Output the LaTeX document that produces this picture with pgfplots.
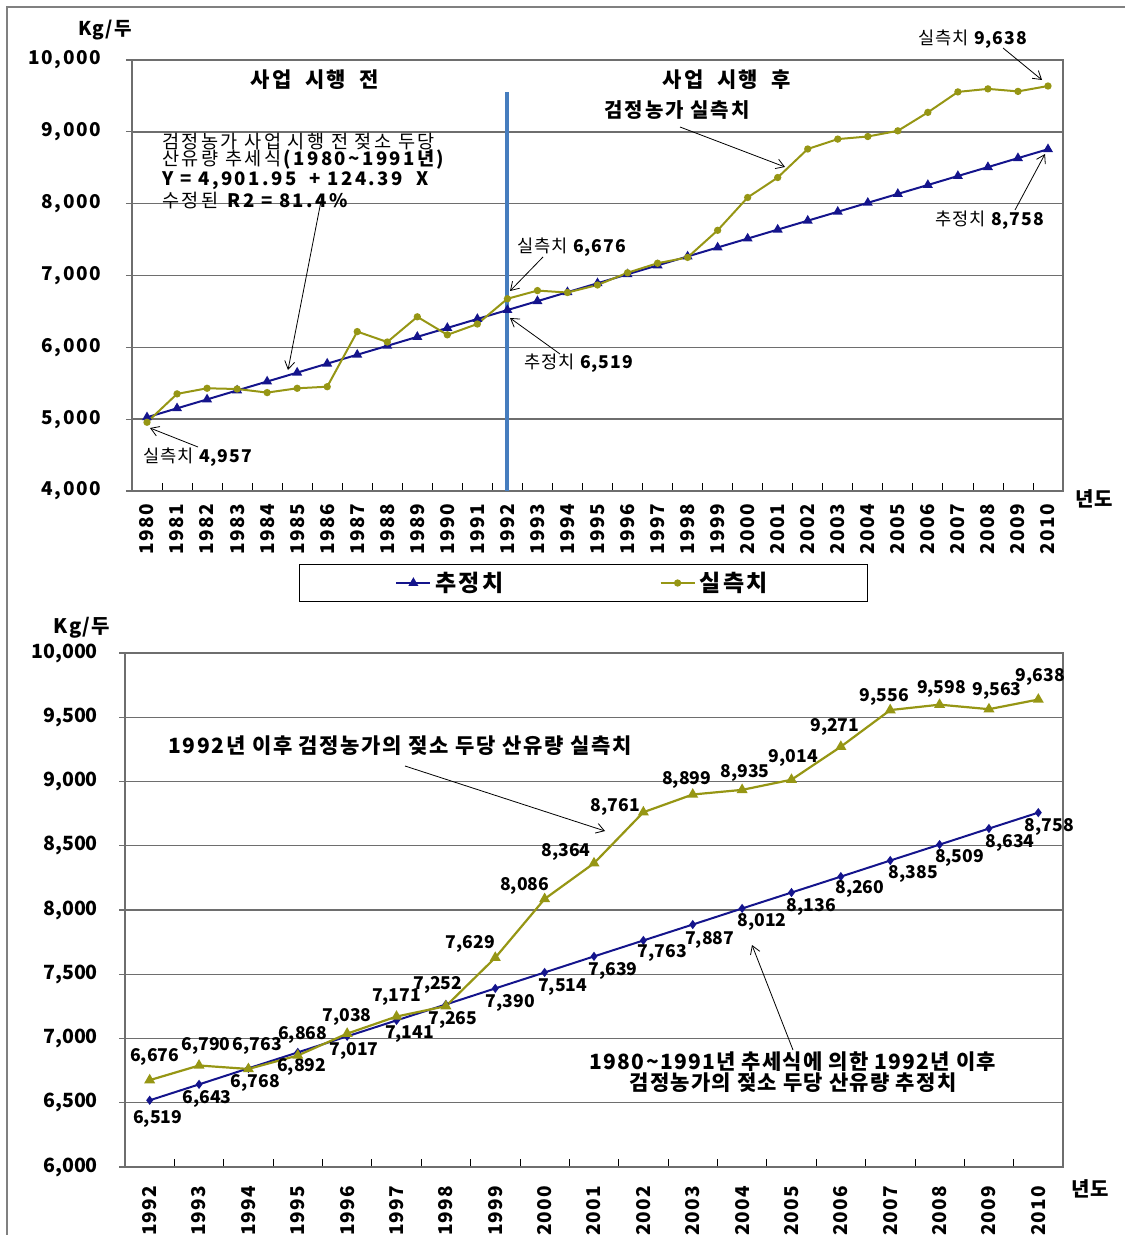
\documentclass[border=0pt]{standalone}
\usepackage{fontspec}
\setmainfont{Noto Sans CJK KR}
\usepackage{pgfplots}
\pgfplotsset{compat=1.18}
\usepackage{pgfplotstable}
\usetikzlibrary{arrows.meta}

\definecolor{est}{RGB}{20,20,140}
\definecolor{act}{RGB}{150,150,20}
\definecolor{vline}{RGB}{70,125,190}
\definecolor{gridc}{RGB}{110,110,110}

\newcommand\LS[1]{\addfontfeature{LetterSpace=#1}}

\pgfplotstableread{
x y
0 5026
1 5151
2 5275
3 5400
4 5524
5 5648
6 5773
7 5897
8 6021
9 6146
10 6270
11 6395
12 6519
13 6643
14 6768
15 6892
16 7017
17 7141
18 7265
19 7390
20 7514
21 7639
22 7763
23 7887
24 8012
25 8136
26 8260
27 8385
28 8509
29 8634
30 8758
}\topest

\pgfplotstableread{
x y
0 4957
1 5352
2 5430
3 5420
4 5370
5 5430
6 5452
7 6219
8 6074
9 6425
10 6174
11 6325
12 6676
13 6790
14 6763
15 6868
16 7038
17 7171
18 7252
19 7629
20 8086
21 8364
22 8761
23 8899
24 8935
25 9014
26 9271
27 9556
28 9598
29 9563
30 9638
}\topact

\pgfplotstableread{
x y dx dy
0 6519 8 19
1 6643 8 15
2 6768 7 15
3 6892 4 15
4 7017 7 15
5 7141 13 14
6 7265 7 16
7 7390 15 15
8 7514 18 15
9 7639 19 15
10 7763 19 13
11 7887 17 15
12 8012 20 14
13 8136 20 14
14 8260 19 12
15 8385 23 13
16 8509 20 13
17 8634 21 14
18 8758 11 14
}\botest

\pgfplotstableread{
x y dx dy
0 6676 5 -23
1 6790 7 -20
2 6763 9 -23
3 6868 5 -20
4 7038 0 -17
5 7171 0 -19
6 7252 -8 -21
7 7629 -25 -14
8 8086 -20 -13
9 8364 -28 -11
10 8761 -28 -5
11 8899 -6 -15
12 8935 3 -17
13 9014 2 -22
14 9271 -6 -20
15 9556 -6 -13
16 9598 2 -16
17 9563 8 -18
18 9638 2 -23
}\botact

\pgfplotsset{
  common/.style={
    scale only axis,
    anchor=south west,
    scaled y ticks=false,
    /pgf/number format/assume math mode=true,
    axis line style={gridc, line width=0.7pt},
    ymajorgrids,
    grid style={gridc, line width=0.7pt},
    xtick pos=bottom, ytick pos=left,
    major x tick style={draw=none},
    minor x tick style={black, line width=0.4pt},
    minor tick length=4pt,
    major tick length=3pt,
    xtick align=inside, ytick align=outside,
    ytick style={gridc, line width=0.6pt},
  },
  labelled/.style={
    nodes near coords,
    point meta=explicit,
    visualization depends on={\thisrow{dx} \as \dx},
    visualization depends on={\thisrow{dy} \as \dy},
    every node near coord/.append style={anchor=center, xshift={0.5*(\dx)}, yshift={-0.5*(\dy)},
      font=\bfseries\fontsize{8.8}{10}\selectfont, text=black, inner sep=0pt},
  },
}

\begin{document}
\begin{tikzpicture}
\path[use as bounding box] (0pt,0pt) rectangle (562.5pt,-617.5pt);
\draw[gray, line width=0.6pt] (3.5pt,-617.5pt) -- (3.5pt,-3.5pt) -- (562.5pt,-3.5pt);

% ---------- top chart ----------
\begin{axis}[common,
  at={(66pt,-245.5pt)}, width=465.5pt, height=215.5pt,
  xmin=-0.5, xmax=30.5, ymin=4000, ymax=10000,
  ytick={4000,5000,...,10000},
  yticklabel style={xshift=-9pt, font=\bfseries\LS{8}\fontsize{9.5}{11}\selectfont},
  xtick={0,...,30},
  minor xtick={-0.5,0.5,...,30.5},
  xticklabels={1980,1981,1982,1983,1984,1985,1986,1987,1988,1989,1990,1991,1992,1993,1994,1995,1996,1997,1998,1999,2000,2001,2002,2003,2004,2005,2006,2007,2008,2009,2010},
  xticklabel style={yshift=-3pt, rotate=90, anchor=east, font=\bfseries\LS{8}\fontsize{9.5}{11}\selectfont},
  legend columns=2,
  legend style={at={(0.485,-0.2135)}, anchor=center, draw=black, line width=0.5pt,
    font=\bfseries\LS{10}\fontsize{11.5}{13}\selectfont, inner xsep=48pt, inner ysep=1.5pt,
    /tikz/every even column/.append style={column sep=76pt}},
]
\addplot[vline, line width=2pt, forget plot] coordinates {(12,4000) (12,9560)};
\addplot[est, line width=1pt, mark=triangle*, mark size=1.9pt] table[x=x,y=y] {\topest};
\addlegendentry{추정치}
\addplot[act, line width=1pt, mark=*, mark size=1.3pt] table[x=x,y=y] {\topact};
\addlegendentry{실측치}
\end{axis}

% ---------- bottom chart ----------
\begin{axis}[common,
  at={(62.5pt,-583.5pt)}, width=469pt, height=257pt,
  xmin=-0.5, xmax=18.5, ymin=6000, ymax=10000,
  ytick={6000,6500,...,10000},
  yticklabel style={xshift=-7pt, font=\bfseries\fontsize{9.8}{12}\selectfont},
  xtick={0,...,18},
  minor xtick={-0.5,0.5,...,18.5},
  xticklabels={1992,1993,1994,1995,1996,1997,1998,1999,2000,2001,2002,2003,2004,2005,2006,2007,2008,2009,2010},
  xticklabel style={yshift=-6pt, rotate=90, anchor=east, font=\bfseries\LS{6}\fontsize{9.5}{11}\selectfont},
]
\addplot[est, line width=1pt, mark=diamond*, mark size=1.5pt, labelled] table[x=x,y=y,meta=y] {\botest};
\addplot[act, line width=1.1pt, mark=triangle*, mark size=2.1pt, labelled] table[x=x,y=y,meta=y] {\botact};
\end{axis}

% ---------- annotations ----------
\begin{scope}[x=0.5pt,y=-0.5pt, every node/.style={inner sep=0pt}]
\def\arr{-{Straight Barb[length=4pt,width=5pt]}}
% top
\node[font=\bfseries\LS{5}\fontsize{9.5}{11}\selectfont] at (105,30) {Kg/두};
\node[font=\bfseries\fontsize{10}{11}\selectfont] at (1094,499) {년도};
\node[font=\bfseries\LS{10}\fontsize{10.5}{12}\selectfont] at (315,80) {사업\ \ 시행\ \ 전};
\node[font=\bfseries\LS{10}\fontsize{10.5}{12}\selectfont] at (727,80) {사업\ \ 시행\ \ 후};
\node[font=\bfseries\LS{10}\fontsize{10}{11}\selectfont] at (677,110) {검정농가 실측치};
\draw[black, line width=0.4pt, \arr] (680,127) -- (785,167);
\node[anchor=north west, align=left, font=\LS{13}\fontsize{9.3}{8.6}\selectfont] at (162,133)
  {검정농가\ 사업\ 시행\ 전\ 젖소\ 두당\\
   산유량\ 추세식\textbf{(1980\textasciitilde1991년)}\\
   \textbf{Y = 4,901.95\ \ + 124.39\ \ X}\\
   수정된 \textbf{R2 = 81.4\%}};
\draw[black, line width=0.4pt, \arr] (322,196) -- (288,370);
\node[font=\LS{5}\fontsize{8.8}{10}\selectfont] at (973,39) {실측치 \textbf{9,638}};
\draw[black, line width=0.4pt, \arr] (1003,48) -- (1042,80);
\node[font=\LS{5}\fontsize{8.8}{10}\selectfont] at (990,220) {추정치 \textbf{8,758}};
\draw[black, line width=0.4pt, \arr] (1015,210) -- (1045,154);
\node[font=\LS{5}\fontsize{8.8}{10}\selectfont] at (572,247) {실측치 \textbf{6,676}};
\draw[black, line width=0.4pt, \arr] (543,257) -- (510,291);
\node[font=\LS{5}\fontsize{8.8}{10}\selectfont] at (579,363) {추정치 \textbf{6,519}};
\draw[black, line width=0.4pt, \arr] (560,354) -- (510,318);
\node[font=\LS{5}\fontsize{8.8}{10}\selectfont] at (198,457) {실측치 \textbf{4,957}};
\draw[black, line width=0.4pt, \arr] (198,447) -- (150,428);
% bottom
\node[font=\bfseries\LS{5}\fontsize{10}{11}\selectfont] at (82,628) {Kg/두};
\node[font=\bfseries\fontsize{10}{11}\selectfont] at (1090,1189) {년도};
\node[font=\bfseries\LS{8}\fontsize{10.5}{12}\selectfont] at (400,746) {1992년 이후 검정농가의 젖소 두당 산유량 실측치};
\draw[black, line width=0.4pt, \arr] (405,766) -- (605,831);
\node[align=center, font=\bfseries\LS{6}\fontsize{10.5}{10.5}\selectfont] at (793,1072)
  {1980\textasciitilde1991년 추세식에 의한 1992년 이후\\검정농가의 젖소 두당 산유량 추정치};
\draw[black, line width=0.4pt, \arr] (793,1050) -- (752,945);
\end{scope}
\end{tikzpicture}
\end{document}
